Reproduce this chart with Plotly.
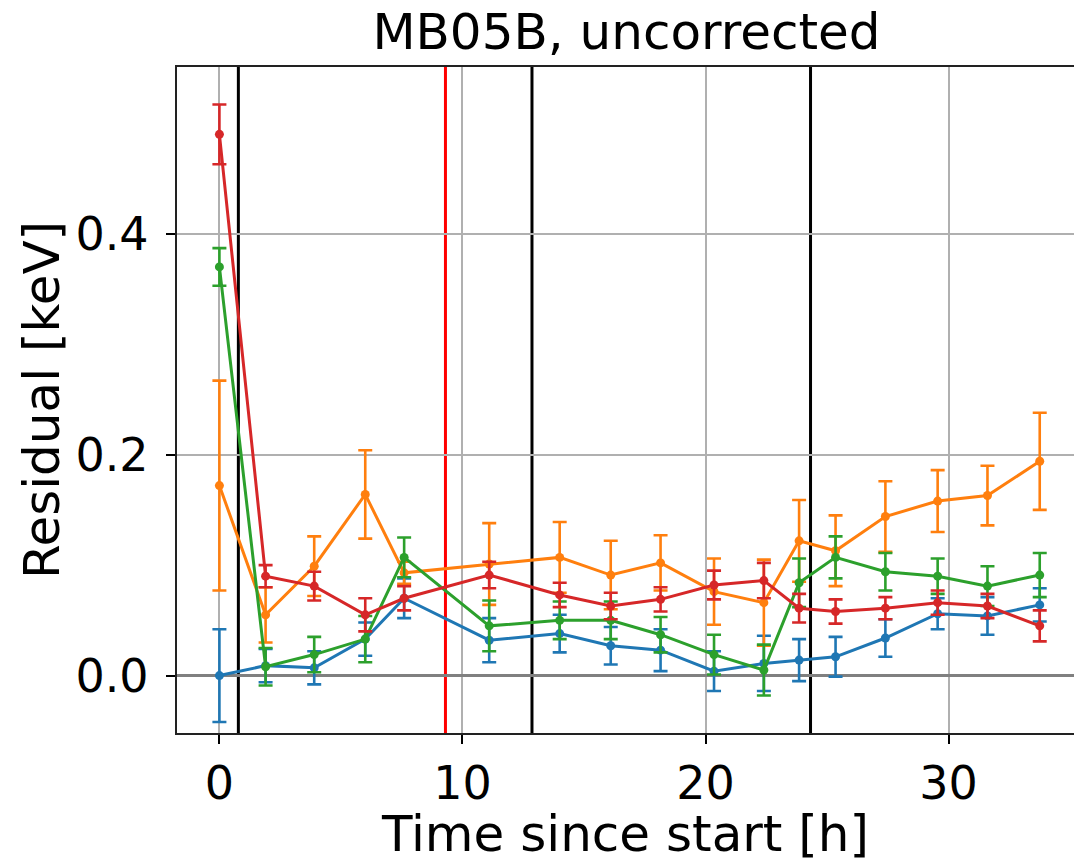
import plotly.graph_objects as go

# ---- data ----
time_h = [0.0, 1.9, 3.9, 6.0, 7.6, 11.1, 14.0, 16.1, 18.15, 20.35, 22.4,
          23.85, 25.35, 27.4, 29.55, 31.6, 33.75]

blue = [0.000, 0.009, 0.007, 0.033, 0.070, 0.032, 0.038, 0.027, 0.023, 0.004,
        0.011, 0.014, 0.017, 0.034, 0.056, 0.054, 0.064]
blue_err = [0.042, 0.015, 0.015, 0.015, 0.018, 0.020, 0.017, 0.017, 0.019, 0.018,
            0.025, 0.019, 0.018, 0.017, 0.014, 0.017, 0.015]

orange = [0.172, 0.055, 0.099, 0.164, 0.093, 0.101, 0.107, 0.091, 0.102, 0.076,
          0.066, 0.122, 0.113, 0.144, 0.158, 0.163, 0.194]
orange_err = [0.095, 0.025, 0.027, 0.040, 0.010, 0.037, 0.032, 0.031, 0.025, 0.030,
              0.039, 0.037, 0.032, 0.032, 0.028, 0.027, 0.044]

green = [0.370, 0.008, 0.019, 0.033, 0.107, 0.045, 0.050, 0.050, 0.037, 0.019,
         0.005, 0.084, 0.107, 0.094, 0.090, 0.081, 0.091]
green_err = [0.017, 0.017, 0.016, 0.021, 0.018, 0.023, 0.017, 0.017, 0.016, 0.018,
             0.023, 0.022, 0.019, 0.017, 0.016, 0.018, 0.020]

red = [0.490, 0.090, 0.081, 0.055, 0.070, 0.091, 0.073, 0.063, 0.069, 0.082,
       0.086, 0.061, 0.058, 0.061, 0.066, 0.063, 0.045]
red_err = [0.027, 0.010, 0.013, 0.015, 0.011, 0.012, 0.011, 0.012, 0.011, 0.013,
           0.016, 0.013, 0.011, 0.010, 0.011, 0.011, 0.014]

black_vlines = [0.78, 12.86, 24.32]
red_vlines = [9.3]

x_ticks = [0, 10, 20, 30]
y_ticks = [0.0, 0.2, 0.4]
y_tick_text = ["0.0", "0.2", "0.4"]

series = [
    (blue, blue_err, "#1f77b4"),
    (orange, orange_err, "#ff7f0e"),
    (green, green_err, "#2ca02c"),
    (red, red_err, "#d62728"),
]

FONT = "DejaVu Sans"

fig = go.Figure()
for vals, errs, col in series:
    fig.add_trace(go.Scatter(
        x=time_h, y=vals, mode="lines+markers",
        line=dict(color=col, width=3),
        marker=dict(color=col, size=9),
        error_y=dict(type="data", array=errs, visible=True,
                     color=col, thickness=2.6, width=7),
        showlegend=False,
    ))

for xv in black_vlines:
    fig.add_shape(type="line", xref="x", yref="paper", x0=xv, x1=xv, y0=0, y1=1,
                  line=dict(color="black", width=3), layer="between")
for xv in red_vlines:
    fig.add_shape(type="line", xref="x", yref="paper", x0=xv, x1=xv, y0=0, y1=1,
                  line=dict(color="red", width=3), layer="between")

fig.update_layout(
    width=1074, height=863,
    margin=dict(l=177, r=0, t=67, b=125, pad=0),
    paper_bgcolor="white", plot_bgcolor="white",
    font=dict(family=FONT, color="black"),
    title=dict(text="MB05B, uncorrected", x=0.5833, xref="container",
               xanchor="center", y=1 - 31 / 863, yref="container",
               yanchor="middle", font=dict(family=FONT, size=50, color="black")),
)

fig.update_xaxes(
    range=[-1.745, 35.16],
    tickmode="array", tickvals=x_ticks,
    ticks="outside", ticklen=9, tickwidth=2, tickcolor="black",
    tickfont=dict(family=FONT, size=46, color="black"),
    showgrid=True, gridcolor="#b0b0b0", gridwidth=1.8,
    zeroline=False,
    showline=True, linecolor="#222222", linewidth=2.4, mirror=True,
    title=dict(text="Time since start [h]", font=dict(family=FONT, size=50, color="black"),
               standoff=18),
)
fig.update_yaxes(
    range=[-0.052, 0.551],
    tickmode="array", tickvals=y_ticks, ticktext=y_tick_text,
    ticks="outside", ticklen=9, tickwidth=2, tickcolor="black",
    tickfont=dict(family=FONT, size=46, color="black"),
    showgrid=True, gridcolor="#b0b0b0", gridwidth=1.8,
    zeroline=True, zerolinecolor="#808080", zerolinewidth=3,
    showline=True, linecolor="#222222", linewidth=2.4, mirror=False,
    ticklabelstandoff=8,
    title=dict(text="Residual [keV]", font=dict(family=FONT, size=50, color="black"),
               standoff=0),
)

fig.write_html("out.html")
